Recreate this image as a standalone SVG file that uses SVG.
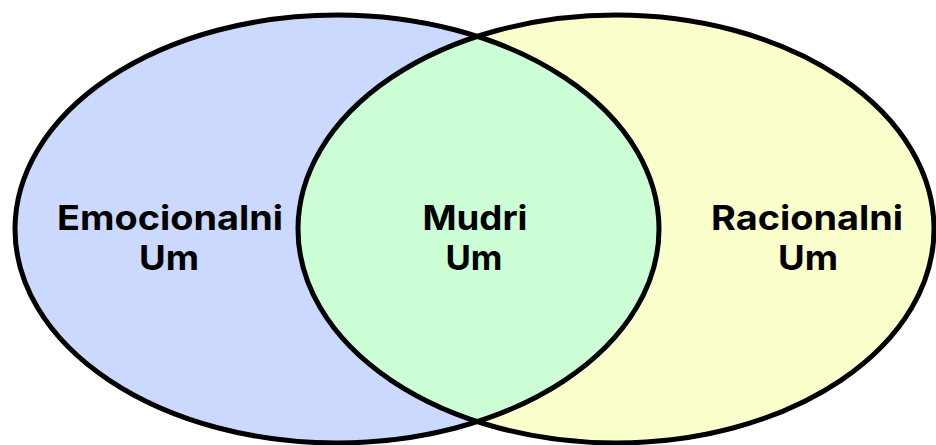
<svg xmlns="http://www.w3.org/2000/svg" width="936" height="445" viewBox="0 0 936 445">
  <style>
    .lbl { font-family: Inter, "Noto Sans", "DejaVu Sans", sans-serif; font-weight: 700; font-size: 34px; fill: #000; text-anchor: middle; }
    .edge { fill: none; stroke: #000; stroke-width: 5; }
  </style>
  <defs>
    <clipPath id="clipLeft">
      <ellipse cx="337" cy="229" rx="322" ry="214"/>
    </clipPath>
  </defs>
  <g id="emocionalni">
    <ellipse cx="337" cy="229" rx="322" ry="214" fill="#CCD9FF"/>
  </g>
  <g id="racionalni">
    <ellipse cx="616" cy="229" rx="318" ry="214" fill="#FAFFCC"/>
  </g>
  <g id="mudri">
    <ellipse cx="616" cy="229" rx="318" ry="214" fill="#CCFFD5" clip-path="url(#clipLeft)"/>
  </g>
  <g id="outlines">
    <ellipse class="edge" cx="337" cy="229" rx="322" ry="214"/>
    <ellipse class="edge" cx="616" cy="229" rx="318" ry="214"/>
  </g>
  <g id="labels">
    <text class="lbl" x="170" y="230" textLength="226" lengthAdjust="spacingAndGlyphs">Emocionalni</text>
    <text class="lbl" x="169" y="270" textLength="60" lengthAdjust="spacingAndGlyphs">Um</text>
    <text class="lbl" x="475" y="230" textLength="105" lengthAdjust="spacingAndGlyphs">Mudri</text>
    <text class="lbl" x="474" y="270" textLength="57" lengthAdjust="spacingAndGlyphs">Um</text>
    <text class="lbl" x="807" y="230" textLength="192" lengthAdjust="spacingAndGlyphs">Racionalni</text>
    <text class="lbl" x="808" y="270" textLength="60" lengthAdjust="spacingAndGlyphs">Um</text>
  </g>
</svg>
